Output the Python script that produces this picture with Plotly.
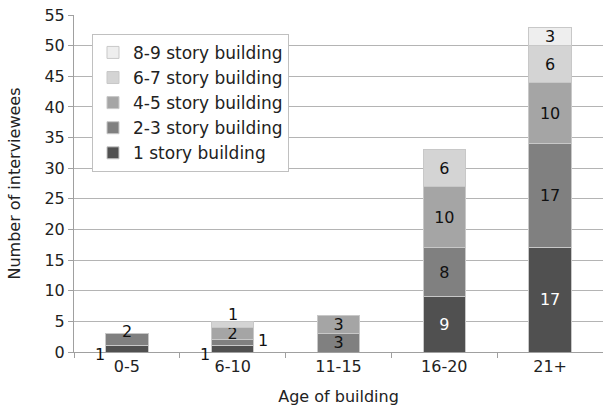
import plotly.graph_objects as go

ages = ["0-5", "6-10", "11-15", "16-20", "21+"]
series_names = ["1 story building", "2-3 story building", "4-5 story building",
                "6-7 story building", "8-9 story building"]
one_story = [1, 1, 0, 9, 17]
two_three = [2, 1, 3, 8, 17]
four_five = [0, 2, 3, 10, 10]
six_seven = [0, 1, 0, 6, 6]
eight_nine = [0, 0, 0, 0, 3]

colors = ["#505050", "#808080", "#a5a5a5", "#d4d4d4", "#eeeeee"]
text_colors = ["white", "#111111", "#111111", "#111111", "#111111"]

FONT = "DejaVu Sans"

# labels drawn separately (too small to sit inside their segment)
# (series, category): (y, xshift, yshift)
special = {
    (0, 0): (0, -27, -2),
    (1, 0): (3.3, 0, 0),
    (0, 1): (0, -28, -2),
    (1, 1): (1.8, 30, 0),
    (3, 1): (6.1, 0, 0),
}

fig = go.Figure()
all_series = [one_story, two_three, four_five, six_seven, eight_nine]
for s, (name, vals) in enumerate(zip(series_names, all_series)):
    texts = []
    for i, v in enumerate(vals):
        if v == 0 or (s, i) in special:
            texts.append("")
        else:
            texts.append(str(v))
    fig.add_trace(go.Bar(
        x=ages, y=vals, name=name,
        marker=dict(color=colors[s], line=dict(color="#c8c8c8", width=1)),
        text=texts, textposition="inside", insidetextanchor="middle",
        textangle=0, constraintext="none",
        textfont=dict(family=FONT, size=16, color=text_colors[s]),
        hoverinfo="name+y",
    ))

for (s, i), (yy, dx, dy) in special.items():
    fig.add_annotation(
        x=ages[i], y=yy, xshift=dx, yshift=dy, text=str(all_series[s][i]),
        showarrow=False, font=dict(family=FONT, size=16, color="#111111"),
    )

fig.update_layout(
    width=603, height=409,
    margin=dict(l=74, r=0, t=15, b=57),
    barmode="stack", bargap=0.6,
    plot_bgcolor="white", paper_bgcolor="white",
    font=dict(family=FONT, size=16, color="#222222"),
    showlegend=True,
    legend=dict(
        x=0.034, y=0.944, xanchor="left", yanchor="top",
        traceorder="reversed",
        bordercolor="#c0c0c0", borderwidth=1, bgcolor="white",
        font=dict(family=FONT, size=17, color="#222222"),
        itemwidth=30, tracegroupgap=0,
    ),
)
fig.update_xaxes(
    type="category", tickson="boundaries", automargin=False,
    ticks="outside", ticklen=5, tickcolor="#a0a0a0",
    showline=True, linecolor="#a0a0a0", linewidth=1,
    tickfont=dict(family=FONT, size=16, color="#222222"),
    title=dict(text="Age of building", font=dict(family=FONT, size=16), standoff=15),
    range=[-0.5, 4.5],
)
fig.update_yaxes(
    range=[0, 55], dtick=5, automargin=False,
    showgrid=True, gridcolor="#b4b4b4", gridwidth=1,
    ticks="outside", ticklen=5, tickcolor="#a0a0a0",
    showline=True, linecolor="#a0a0a0", linewidth=1,
    zeroline=False,
    tickfont=dict(family=FONT, size=16, color="#222222"),
    title=dict(text="Number of interviewees", font=dict(family=FONT, size=16), standoff=19),
)

fig.write_html("out.html", config={"displayModeBar": False},
               post_script="document.body.style.margin='0px';")
